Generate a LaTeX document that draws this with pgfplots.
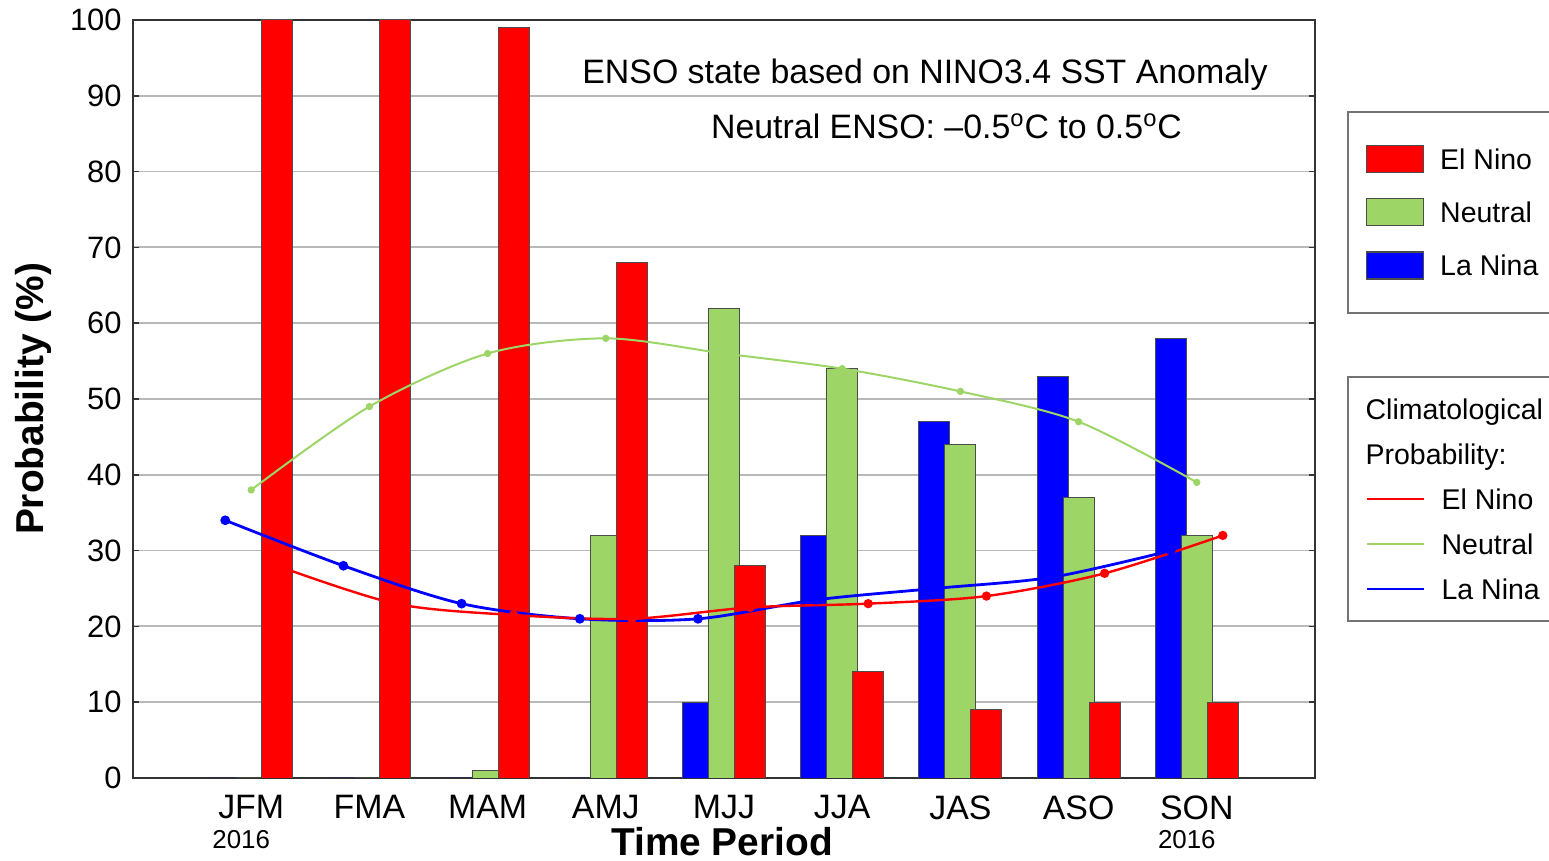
\documentclass[border=0pt]{standalone}
\usepackage{pgfplots}
\pgfplotsset{compat=1.18}
\usepackage{fontspec}
\setmainfont{Liberation Sans}
\definecolor{ngreen}{RGB}{157,213,102}
\newcommand{\LE}[1]{\makebox[60bp][l]{#1}}
\begin{document}
\begin{tikzpicture}
\begin{axis}[
  at={(66.5bp,41.5bp)}, anchor=south west,
  scale only axis, width=591bp, height=379bp,
  xmin=-1, xmax=9, ymin=0, ymax=100,
  xtick={0,...,8},
  xticklabels={{JFM\\[-1bp]{\fontsize{13}{13}\selectfont\kern-10bp 2016}}, FMA, MAM, AMJ, MJJ, JJA, JAS, ASO, {SON\\[-1bp]{\fontsize{13}{13}\selectfont\kern-10bp 2016}}},
  xticklabel style={font=\fontsize{17}{16}\selectfont, align=center, inner sep=0pt, yshift=-8.5bp},
  xtick style={draw=none},
  ytick={0,10,...,100},
  yticklabel style={font=\fontsize{15.5}{16}\selectfont, inner sep=0pt, xshift=-5.5bp},
  /pgf/number format/assume math mode=true,
  tick align=inside, major tick length=3bp,
  ytick style={black!80, line width=0.8bp},
  ymajorgrids, grid style={gray!55, line width=0.9bp},
  axis line style={black!80, line width=1.2bp},
  ylabel={Probability (\%)},
  every axis y label/.style={at={(axis description cs:-0.0846,0.5)}, rotate=90, anchor=center, font=\bfseries\fontsize{19.5}{20}\selectfont},
  xlabel={Time Period},
  every axis x label/.style={at={(axis description cs:0.4983,-0.0835)}, anchor=center, font=\bfseries\fontsize{19.5}{20}\selectfont},
  legend style={at={(1.02707,0.87995)}, anchor=north west, draw=black!55, line width=1bp,
    inner xsep=9bp, inner ysep=16.5bp, row sep=12.5bp, column sep=8bp,
    font=\fontsize{14.3}{15}\selectfont,
    nodes={inner sep=0pt, text height=12bp, text depth=1.5bp}},
  legend cell align=left,
  legend image code/.code={\draw[#1, line width=0.6bp] (0bp,-6.75bp) rectangle (28.5bp,6.75bp);},
  reverse legend,
]
\addplot[ybar, bar width=0.262, bar shift=-0.22, fill=blue, draw=black!70, line width=0.5bp]
  coordinates {(0,0) (1,0) (2,0) (3,0) (4,10) (5,32) (6,47) (7,53) (8,58)};
\addlegendentry{\LE{La Nina}}
\addplot[ybar, bar width=0.262, bar shift=0, fill=ngreen, draw=black!70, line width=0.5bp]
  coordinates {(0,0) (1,0) (2,1) (3,32) (4,62) (5,54) (6,44) (7,37) (8,32)};
\addlegendentry{\LE{Neutral}}
\addplot[ybar, bar width=0.262, bar shift=0.22, fill=red, draw=black!70, line width=0.5bp]
  coordinates {(0,100) (1,100) (2,99) (3,68) (4,28) (5,14) (6,9) (7,10) (8,10)};
\addlegendentry{\LE{El Nino}}
\end{axis}
\begin{axis}[
  at={(66.5bp,41.5bp)}, anchor=south west,
  scale only axis, width=591bp, height=379bp,
  xmin=-1, xmax=9, ymin=0, ymax=100,
  hide axis,
  legend style={at={(1.02707,0.53034)}, anchor=north west, draw=black!55, line width=1bp,
    inner xsep=9bp, inner ysep=9.25bp, row sep=9bp, column sep=8bp,
    font=\fontsize{14.3}{15}\selectfont,
    nodes={inner sep=0pt, text height=12bp, text depth=1.5bp}},
  legend cell align=left,
  legend image code/.code={\draw[#1] (0bp,0bp) -- (28.5bp,0bp);},
]
\addlegendimage{empty legend}\addlegendentry{\LE{\hspace*{-38bp}Climatological}}
\addlegendimage{empty legend}\addlegendentry{\LE{\hspace*{-38bp}Probability:}}
\addlegendimage{red, line width=1.3bp}\addlegendentry{\LE{El Nino}}
\addlegendimage{ngreen, line width=1.3bp}\addlegendentry{\LE{Neutral}}
\addlegendimage{blue, line width=1.3bp}\addlegendentry{\LE{La Nina}}
\addplot[ngreen, line width=1bp, smooth, mark=*, mark size=1.3bp, forget plot]
  coordinates {(0,38) (1,49) (2,56) (3,58) (4,56) (5,54) (6,51) (7,47) (8,39)};
\addplot[blue, line width=1.4bp, smooth, mark=*, mark size=1.7bp, forget plot]
  coordinates {(-0.22,34) (0.78,28) (1.78,23) (2.78,21) (3.78,21) (4.78,23.5) (5.78,25) (6.78,26.5) (7.78,30)};
\addplot[red, line width=1.2bp, smooth, mark=*, mark size=1.7bp, forget plot]
  coordinates {(0.22,28) (1.22,23) (2.22,21.5) (3.22,21) (4.22,22.5) (5.22,23) (6.22,24) (7.22,27) (8.22,32)};
\end{axis}
\node[anchor=base, font=\fontsize{17}{17}\selectfont] at (462.5bp,388.5bp) {ENSO state based on NINO3.4 SST Anomaly};
\node[anchor=base, font=\fontsize{17}{17}\selectfont] at (473.25bp,361bp) {Neutral ENSO: –0.5\textsuperscript{o}C to 0.5\textsuperscript{o}C};
\pgfresetboundingbox
\useasboundingbox (0,0) rectangle (774.5bp,430.5bp);
\end{tikzpicture}
\end{document}
